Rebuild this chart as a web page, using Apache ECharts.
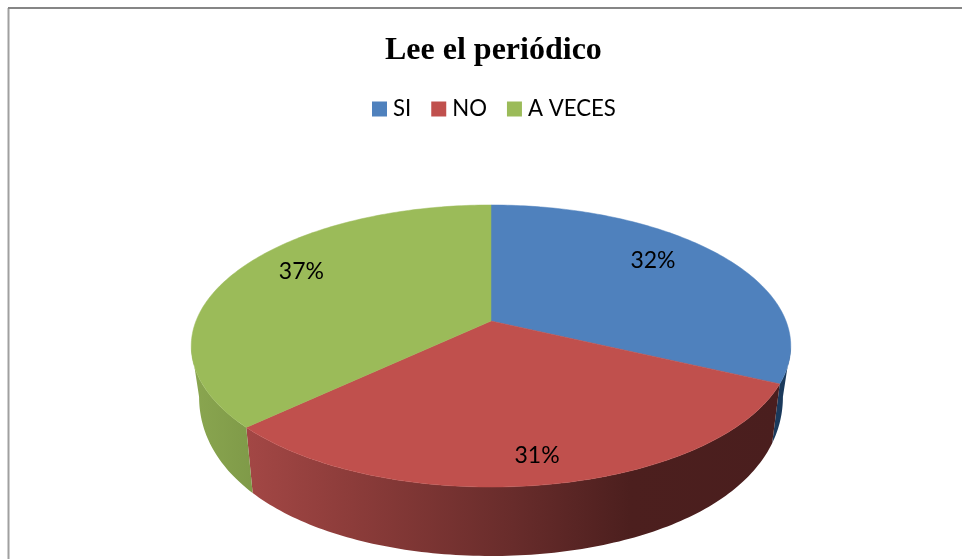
<!DOCTYPE html>
<html><head><meta charset="utf-8">
<style>html,body{margin:0;padding:0;background:#fff}#c{width:962px;height:559px}</style>
<script src="https://cdn.jsdelivr.net/npm/echarts@6/dist/echarts.min.js"></script>
</head><body><div id="c"></div>
<script>
const chartTitle = 'Lee el periódico';
const categories = ['SI', 'NO', 'A VECES'];
const percentages = [32, 31, 37];

const topColors = ['#4f81bd', '#c0504d', '#9bbb59'];
const wallFills = [
  '#1b3a5c',
  {type:'linear',x:0,y:0,x2:1,y2:0,colorStops:[
    {offset:0,color:'#a34745'},{offset:.2,color:'#8c3c3a'},{offset:.5,color:'#682c2b'},
    {offset:.72,color:'#4c1f1e'},{offset:1,color:'#4a1e1e'}]},
  {type:'linear',x:0,y:0,x2:1,y2:0,colorStops:[{offset:0,color:'#8aa650'},{offset:1,color:'#7f9a48'}]}
];
// per-slice placement of the value label along u and v, as a share of the pie radius
const labelReach = [[.705,.888],[.85,.848],[.748,.965]];

// perspective projection of the pie disc
const P = {cx:491, top:{cy:321, ax:295, ay:136.6, k:.1773}, base:{cy:364.5, ax:287.3, ay:180, kx:.1773, ky:.06}};
const total = percentages.reduce((a,b)=>a+b,0);
const uv = a => [Math.sin(a), -Math.cos(a)];
function topPt(u,v){const d=1-P.top.k*v;return [P.cx+P.top.ax*u/d, P.top.cy+P.top.ay*v/d];}
function basePt(u,v){const b=P.base;return [P.cx+b.ax*u/(1-b.kx*v), b.cy+b.ay*v/(1-b.ky*v)];}
function arc(fn,a0,a1){const n=Math.max(2,Math.ceil(Math.abs(a1-a0)*60)),o=[];
  for(let i=0;i<=n;i++){const a=a0+(a1-a0)*i/n,[u,v]=uv(a);o.push(fn(u,v));}return o;}
const tangentV = P.top.k; // disc silhouette

function renderSlice(idx){
  return function(params, api){
    let before=0; for(let i=0;i<idx;i++) before+=percentages[i];
    const a0=before/total*2*Math.PI, a1=(before+api.value(0))/total*2*Math.PI;
    const mid=(a0+a1)/2,[mu,mv]=uv(mid),[ru,rv]=labelReach[idx];
    const children=[];
    const w0=Math.max(a0,Math.acos(-tangentV)), w1=Math.min(a1,2*Math.PI-Math.acos(-tangentV));
    if(w1>w0){
      const pts=arc(topPt,w0,w1).concat(arc(basePt,w1,w0));
      children.push({type:'polygon',z2:1,shape:{points:pts},style:{fill:wallFills[idx]}});
    }
    children.push({type:'polygon',z2:2,shape:{points:[topPt(0,0)].concat(arc(topPt,a0,a1))},
      style:{fill:topColors[idx],stroke:topColors[idx],lineWidth:.5}});
    const lp=topPt(mu*ru,mv*rv);
    children.push({type:'text',z2:3,x:lp[0],y:lp[1],style:{text:api.value(0)+'%',
      font:'23px Lato, sans-serif',fill:'#000',align:'center',verticalAlign:'middle'}});
    return {type:'group',children};
  };
}

const chart = echarts.init(document.getElementById('c'),null,{renderer:'canvas'});
chart.setOption({
  animation:false,
  backgroundColor:'#fff',
  title:{text:chartTitle,left:380,top:30,padding:5,
    textStyle:{fontFamily:'Liberation Serif',fontWeight:'bold',fontSize:32,color:'#000'}},
  legend:{data:categories,left:367,top:93,itemWidth:15,itemHeight:15,itemGap:20,icon:'rect',
    textStyle:{fontFamily:'Lato',fontSize:22.2,color:'#000',padding:[0,0,0,1]}},
  graphic:[
    {type:'line',shape:{x1:8.5,y1:8,x2:8.5,y2:559},style:{stroke:'#a0a0a0',lineWidth:2},silent:true},
    {type:'line',shape:{x1:8,y1:8,x2:962,y2:8},style:{stroke:'#868686',lineWidth:2},silent:true}
  ],
  series:categories.map((name,i)=>({
    type:'custom',name,coordinateSystem:'none',
    itemStyle:{color:topColors[i]},
    renderItem:renderSlice(i),
    data:[{name,value:[percentages[i]]}]
  }))
});
</script></body></html>
